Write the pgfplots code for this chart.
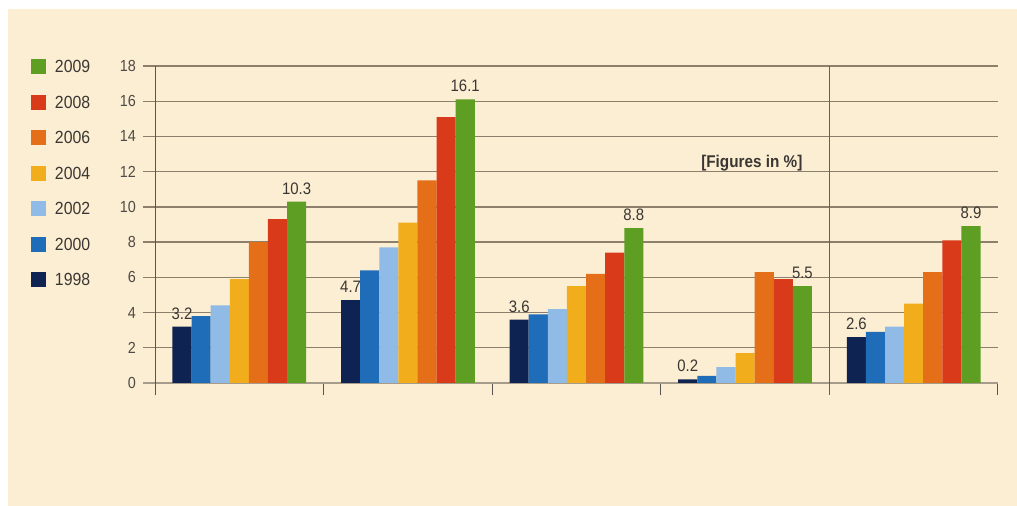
\documentclass[border=0pt]{standalone}
\usepackage{fontspec}
\setmainfont{Liberation Sans}
\newfontfamily\condfont[FakeStretch=0.9]{Liberation Sans}
\usepackage{pgfplots}
\pgfplotsset{compat=1.18}
\definecolor{bg}{HTML}{FCEED3}
\definecolor{gridc}{HTML}{8C7F6C}
\definecolor{zeroc}{HTML}{A59C8C}
\definecolor{c1998}{HTML}{0F2352}
\definecolor{c2000}{HTML}{1F6DB9}
\definecolor{c2002}{HTML}{8FBBE6}
\definecolor{c2004}{HTML}{F2AD1D}
\definecolor{c2006}{HTML}{E56F19}
\definecolor{c2008}{HTML}{D93A1A}
\definecolor{c2009}{HTML}{5E9E22}
\definecolor{txt}{HTML}{3A3632}
\definecolor{sepc}{HTML}{9A4A44}
\pgfplotsset{
  mybar/.style={fill=#1, draw=none,
    legend image code/.code={\fill[#1] (0pt,-3.75pt) rectangle (7.5pt,3.75pt);}},
  labelled/.style={nodes near coords={\pgfmathprintnumber[fixed,fixed zerofill,precision=1]{\pgfplotspointmeta}},
    every node near coord/.append style={font=\condfont\fontsize{8.3}{9}\selectfont, text=txt, inner sep=0pt, yshift=3.5pt, anchor=south}},
}
\begin{document}
\begin{tikzpicture}
\useasboundingbox (0,0) rectangle (508.5pt,253pt);
\fill[white] (0,0) rectangle (508.5pt,253pt);
\fill[bg] (4pt,0) rectangle (508.5pt,248.5pt);
\begin{axis}[
  at={(77.5pt,61.5pt)}, anchor=south west,
  scale only axis, width=421.5pt, height=158.5pt,
  xmin=-0.5, xmax=4.5, ymin=0, ymax=18,
  axis x line=bottom, axis y line=left,
  x axis line style={draw=zeroc, line width=1.4pt, -, shorten <=-6pt},
  y axis line style={draw=txt!85, line width=0.5pt, -, shorten <=-6pt},
  ytick={0,2,...,18},
  ymajorgrids, grid style={draw=gridc, line width=0.7pt},
  xtick={-0.5,0.5,1.5,2.5,3.5,4.5}, xticklabels={},
  tick align=outside, major tick length=6pt,
  ytick style={draw=gridc, line width=0.7pt},
  xtick style={draw=txt!85, line width=0.5pt},
  yticklabel style={font=\condfont\fontsize{8}{9}\selectfont, text=txt!90},
  /pgf/number format/assume math mode=true,
  ybar=0pt, bar width=9.55pt,
  clip=false,
  legend style={at={(-0.1471,1.0205)}, anchor=north west, draw=none, fill=none,
    inner sep=0pt, outer sep=0pt, row sep=10.25pt,
    font=\condfont\fontsize{8.8}{9}\selectfont, text=txt,
    nodes={inner ysep=0pt, inner xsep=4.5pt, text height=6pt, text depth=0pt}},
  legend cell align=left,
  reverse legend,
]
\addplot[mybar=c1998, labelled] coordinates {(0,3.2) (1,4.7) (2,3.6) (3,0.2) (4,2.6)};
\addlegendentry{1998}
\addplot[mybar=c2000] coordinates {(0,3.8) (1,6.4) (2,3.9) (3,0.4) (4,2.9)};
\addlegendentry{2000}
\addplot[mybar=c2002] coordinates {(0,4.4) (1,7.7) (2,4.2) (3,0.9) (4,3.2)};
\addlegendentry{2002}
\addplot[mybar=c2004] coordinates {(0,5.9) (1,9.1) (2,5.5) (3,1.7) (4,4.5)};
\addlegendentry{2004}
\addplot[mybar=c2006] coordinates {(0,8.0) (1,11.5) (2,6.2) (3,6.3) (4,6.3)};
\addlegendentry{2006}
\addplot[mybar=c2008] coordinates {(0,9.3) (1,15.1) (2,7.4) (3,5.9) (4,8.1)};
\addlegendentry{2008}
\addplot[mybar=c2009, labelled] coordinates {(0,10.3) (1,16.1) (2,8.8) (3,5.5) (4,8.9)};
\addlegendentry{2009}
\draw[sepc, line width=0.5pt] ([yshift=-6pt]axis cs:3.5,0) -- (axis cs:3.5,18);
\node[font={\condfont\bfseries\fontsize{8.5}{9}\selectfont}, text=txt] at (axis cs:3.04,12.49) {[Figures in \%]};
\end{axis}
\end{tikzpicture}
\end{document}
